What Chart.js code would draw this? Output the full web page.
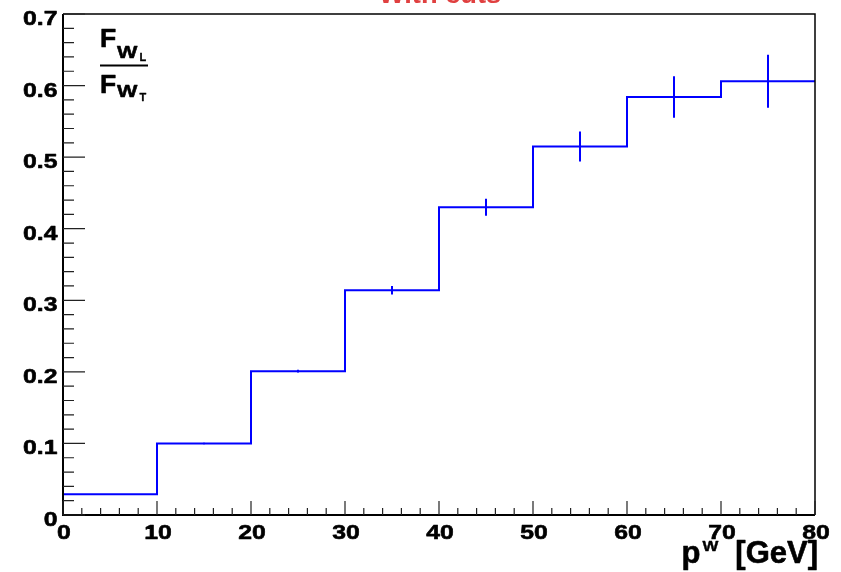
<!DOCTYPE html>
<html>
<head>
<meta charset="utf-8">
<title>F_WL / F_WT vs pW</title>
<script src="https://cdn.jsdelivr.net/npm/chart.js@4/dist/chart.umd.min.js"></script>
<style>
  html, body { margin: 0; padding: 0; background: #ffffff; }
  canvas { display: block; }
</style>
</head>
<body>
<canvas id="chart" width="841" height="572"></canvas>
<script>
// ===========================
// Data
// ===========================

const binEdges = [0, 10, 20, 30, 40, 50, 60, 70, 80];
const ratio = [0.029, 0.100, 0.201, 0.314, 0.430, 0.515, 0.584, 0.606];
const ratioErr = [0, 0.001, 0.002, 0.006, 0.012, 0.021, 0.029, 0.037];

const xTicks = [0, 10, 20, 30, 40, 50, 60, 70, 80];
const xTickLabels = ["0", "10", "20", "30", "40", "50", "60", "70", "80"];
const yTicks = [0, 0.1, 0.2, 0.3, 0.4, 0.5, 0.6, 0.7];
const yTickLabels = ["0", "0.1", "0.2", "0.3", "0.4", "0.5", "0.6", "0.7"];

const titleText = "With cuts";

// ===========================
// Helpers
// ===========================

const FONT = '"Liberation Sans", Arial, Helvetica, sans-serif';

// bold text, optionally stretched sideways and thickened with a thin stroke
function drawText(ctx, text, x, y, size, align, sx, color, heavy) {
  ctx.save();
  ctx.font = "bold " + size + "px " + FONT;
  ctx.textBaseline = "alphabetic";
  ctx.textAlign = "left";
  ctx.fillStyle = color || "#000000";
  ctx.strokeStyle = color || "#000000";
  const w = ctx.measureText(text).width * sx;
  let left = x;
  if (align === "right") left = x - w;
  if (align === "center") left = x - w / 2;
  ctx.translate(left, y);
  ctx.scale(sx, 1);
  ctx.fillText(text, 0, 0);
  if (heavy) {
    ctx.lineWidth = heavy;
    ctx.lineJoin = "round";
    ctx.strokeText(text, 0, 0);
  }
  ctx.restore();
  return w;
}

// histogram outline: one point per lower bin edge, plus the last edge
const stepPoints = ratio.map((v, i) => ({ x: binEdges[i], y: v }));
stepPoints.push({ x: binEdges[binEdges.length - 1], y: ratio[ratio.length - 1] });

// ===========================
// ROOT style frame plugin
// ===========================

const rootFrame = {
  id: "rootFrame",

  afterDatasetsDraw(chart) {
    const ctx = chart.ctx;
    const x = chart.scales.x;
    const y = chart.scales.y;

    // error bars at bin centres
    ctx.save();
    ctx.strokeStyle = "#0000ff";
    ctx.lineWidth = 2;
    ratio.forEach((v, i) => {
      const err = ratioErr[i];
      if (!err) return;
      const cx = x.getPixelForValue((binEdges[i] + binEdges[i + 1]) / 2);
      ctx.beginPath();
      ctx.moveTo(cx, y.getPixelForValue(v - err));
      ctx.lineTo(cx, y.getPixelForValue(v + err));
      ctx.stroke();
    });
    ctx.restore();
  },

  afterDraw(chart) {
    const ctx = chart.ctx;
    const area = chart.chartArea;
    const x = chart.scales.x;
    const y = chart.scales.y;

    ctx.save();

    // frame
    ctx.strokeStyle = "#000000";
    ctx.lineWidth = 1.5;
    ctx.beginPath();
    ctx.moveTo(area.left, area.top);
    ctx.lineTo(area.right, area.top);
    ctx.lineTo(area.right, area.bottom);
    ctx.stroke();

    ctx.lineWidth = 2;
    ctx.beginPath();
    ctx.moveTo(area.left, area.top);
    ctx.lineTo(area.left, area.bottom);
    ctx.lineTo(area.right, area.bottom);
    ctx.stroke();

    // x ticks (major + 4 minor)
    ctx.strokeStyle = "#222222";
    ctx.lineWidth = 1.2;
    ctx.beginPath();
    for (let i = 0; i < xTicks.length; i++) {
      const px = x.getPixelForValue(xTicks[i]);
      ctx.moveTo(px, area.bottom);
      ctx.lineTo(px, area.bottom - 14);
      if (i < xTicks.length - 1) {
        for (let k = 1; k < 5; k++) {
          const m = xTicks[i] + (xTicks[i + 1] - xTicks[i]) * k / 5;
          const pm = x.getPixelForValue(m);
          ctx.moveTo(pm, area.bottom);
          ctx.lineTo(pm, area.bottom - 7);
        }
      }
    }
    // y ticks (major + 4 minor)
    for (let i = 0; i < yTicks.length; i++) {
      const py = y.getPixelForValue(yTicks[i]);
      ctx.moveTo(area.left, py);
      ctx.lineTo(area.left + 22, py);
      if (i < yTicks.length - 1) {
        for (let k = 1; k < 5; k++) {
          const m = yTicks[i] + (yTicks[i + 1] - yTicks[i]) * k / 5;
          const pm = y.getPixelForValue(m);
          ctx.moveTo(area.left, pm);
          ctx.lineTo(area.left + 11, pm);
        }
      }
    }
    ctx.stroke();

    // tick labels
    xTicks.forEach((t, i) => {
      drawText(ctx, xTickLabels[i], x.getPixelForValue(t) + 1, 538.5, 21, "center", 1.18, null, 0.6);
    });
    yTicks.forEach((t, i) => {
      drawText(ctx, yTickLabels[i], 57.5, y.getPixelForValue(t) + 11, 21, "right", 1.18, null, 0.6);
    });

    // x axis title: p^W [GeV]
    drawText(ctx, "p", 681.5, 563, 31, "left", 1, null, 0.6);
    drawText(ctx, "W", 702.5, 550.5, 14, "left", 1.2, null, 0.4);
    drawText(ctx, "[GeV]", 818, 563, 31, "right", 1, null, 0.6);

    // y axis title: F_{W_L} / F_{W_T}
    drawText(ctx, "F", 100, 47, 26.5, "left", 1, null, 0.6);
    drawText(ctx, "W", 117, 58, 16, "left", 1.35, null, 0.5);
    drawText(ctx, "L", 139.5, 61, 11, "left", 1, null, 0.3);
    ctx.fillStyle = "#000000";
    ctx.fillRect(100, 64.5, 48, 2);
    drawText(ctx, "F", 100, 92.5, 26.5, "left", 1, null, 0.6);
    drawText(ctx, "W", 117, 97, 16, "left", 1.35, null, 0.5);
    drawText(ctx, "T", 139.5, 101, 11, "left", 1, null, 0.3);

    // title, mostly above the canvas edge
    drawText(ctx, titleText, 440, 2.5, 26, "center", 1.05, "#e04040");

    ctx.restore();
  }
};

// ===========================
// Create Chart
// ===========================

const ctx = document.getElementById("chart").getContext("2d");

new Chart(ctx, {
  type: "line",

  data: {
    datasets: [
      {
        label: "F_WL / F_WT",
        data: stepPoints,
        stepped: true,
        borderColor: "#0000ff",
        borderWidth: 2,
        pointRadius: 0,
        fill: false,
      },
    ],
  },

  options: {
    responsive: false,
    animation: false,
    devicePixelRatio: 1,

    layout: {
      padding: { left: 63, right: 26, top: 14, bottom: 57 },
    },

    scales: {
      x: {
        type: "linear",
        min: 0,
        max: 80,
        display: false,
      },
      y: {
        type: "linear",
        min: 0,
        max: 0.7,
        display: false,
      },
    },

    plugins: {
      legend: { display: false },
      tooltip: { enabled: false },
    },
  },

  plugins: [rootFrame],
});
</script>
</body>
</html>
